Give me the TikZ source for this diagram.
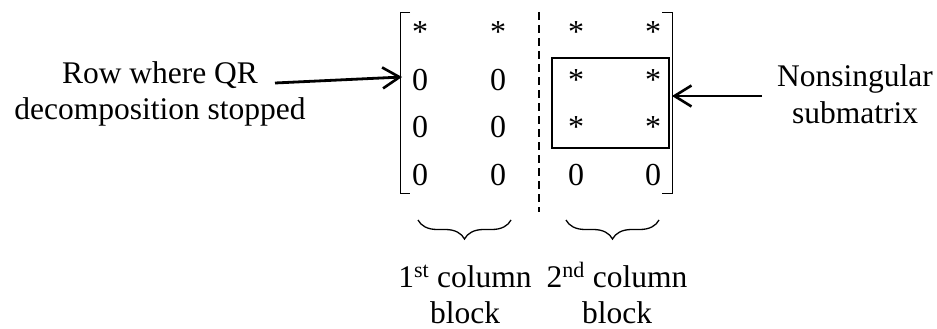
\documentclass[tikz,border=0pt]{standalone}
\usepackage{fontspec}
\setmainfont{Liberation Serif}
\usetikzlibrary{arrows.meta,decorations.pathreplacing}
\begin{document}
\begin{tikzpicture}[x=1pt,y=-1pt,
  entry/.style={anchor=base,inner sep=0pt,font=\fontsize{32}{38}\selectfont},
  label/.style={align=center,inner sep=0pt,font=\fontsize{31.5}{36}\selectfont},
  pointer/.style={line width=2.8pt,-{Straight Barb[length=17pt,width=21pt,line width=2.6pt]}},
  bracket/.style={line width=1pt},
  colbrace/.style={line width=1.3pt,decorate,decoration={brace,mirror,amplitude=19pt}}]
\useasboundingbox (0,0) rectangle (937,329);

% matrix entries
\foreach \c/\x in {1/420,2/498,3/576,4/653}{
  \node[entry] (m1\c) at (\x,42.5) {*};
}
\node[entry] (m21) at (420,90) {0};
\node[entry] (m22) at (498,90) {0};
\node[entry] (m23) at (576,90) {*};
\node[entry] (m24) at (653,90) {*};
\node[entry] (m31) at (420,137.5) {0};
\node[entry] (m32) at (498,137.5) {0};
\node[entry] (m33) at (576,137.5) {*};
\node[entry] (m34) at (653,137.5) {*};
\foreach \c/\x in {1/420,2/498,3/576,4/653}{
  \node[entry] (m4\c) at (\x,185) {0};
}

% square brackets
\draw[bracket] (410,13) -- (400.5,13) -- (400.5,193) -- (410,193);
\draw[bracket] (662,13) -- (672,13) -- (672,193) -- (662,193);

% column block separator
\draw[line width=1.5pt,dash pattern=on 8pt off 5pt] (539,12) -- (539,212);

% nonsingular submatrix
\draw[line width=1.3pt] (552,58) rectangle (669,148);

% labels (base anchor sits on the last line)
\node[label,anchor=base] (rowlbl) at (160,119) {Row where QR\\decomposition stopped};
\node[label,anchor=base] (sublbl) at (855,123) {Nonsingular\\submatrix};

\coordinate (rowstart) at (275,83);
\coordinate (rowend) at (402,77);
\coordinate (substart) at (762,96);
\coordinate (subend) at (672,96);
\draw[pointer] (rowstart) -- (rowend);
\draw[pointer] (substart) -- (subend);

% column block braces
\draw[colbrace] (418,220) -- (511,220);
\draw[colbrace] (566,220) -- (659,220);
\node[label,anchor=base] (blk1) at (465,323) {1\textsuperscript{st} column\\block};
\node[label,anchor=base] (blk2) at (617,323) {2\textsuperscript{nd} column\\block};
\end{tikzpicture}
\end{document}
